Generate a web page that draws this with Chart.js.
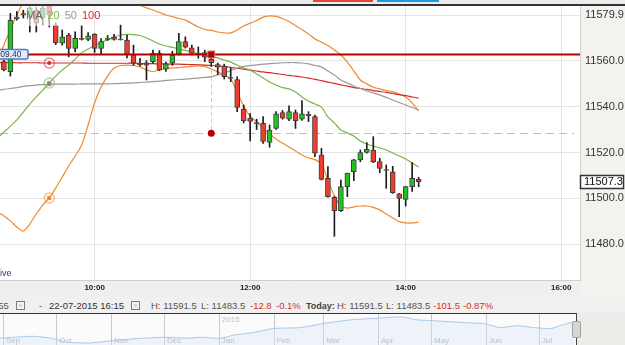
<!DOCTYPE html>
<html>
<head>
<meta charset="utf-8">
<script src="https://cdn.jsdelivr.net/npm/chart.js@4.4.0/dist/chart.umd.min.js"></script>
<style>
  body { margin: 0; background: #f1f1f1; font-family: 'Liberation Sans', Arial, sans-serif; }
  #wrap { position: relative; width: 625px; height: 345px; overflow: hidden; background: #f0f0f0; }
  #main { position: absolute; left: 0; top: 0; }
  #nav { position: absolute; left: 0; top: 314px; }
  .abs { position: absolute; }
  .st { position: absolute; top: 300px; font-size: 9.5px; line-height: 12px; color: #555; white-space: nowrap; }
  .red { color: #d0312d; }
  .cal { position: absolute; top: 301px; width: 7px; height: 7px; border: 1px solid #7d7d7d; background: #d8d8d8; box-shadow: inset 0 0 0 2px #f2f2f2; }
</style>
</head>
<body>
<div id="wrap">
  <canvas id="main" width="625" height="297"></canvas>
  <div class="abs" style="left:0;top:0;width:625px;height:4px;background:#ebebeb"></div>
  <div class="abs" style="left:313px;top:0;width:60px;height:2px;background:#e4473a"></div>
  <div class="abs" style="left:377px;top:0;width:62px;height:2px;background:#1f9ade"></div>
  <div class="abs" style="left:0;top:4px;width:625px;height:1.5px;background:#333"></div>
  <div class="abs" style="left:-5px;top:268px;font-size:9px;color:#4b2c73">Live</div>

  <div class="st" style="left:-15px">08:55</div>
  <div class="cal" style="left:16px"></div>
  <div class="st" style="left:39px">-</div>
  <div class="st" style="left:49px;color:#333">22-07-2015 16:15</div>
  <div class="cal" style="left:131px"></div>
  <div class="st" style="left:151px">H: 11591.5</div>
  <div class="st" style="left:201px">L: 11483.5</div>
  <div class="st red" style="left:250px">-12.8</div>
  <div class="st red" style="left:276px">-0.1%</div>
  <div class="st" style="left:306px;font-weight:bold;color:#444;font-size:9px">Today:</div>
  <div class="st" style="left:337px">H: 11591.5</div>
  <div class="st" style="left:386px">L: 11483.5</div>
  <div class="st red" style="left:433px">-101.5</div>
  <div class="st red" style="left:463px">-0.87%</div>

  <div class="abs" style="left:577px;top:313px;width:48px;height:32px;background:#eeece8"></div>
  <canvas id="nav" width="577" height="31"></canvas>
  <div class="abs" style="left:0;top:312.5px;width:577px;height:1.5px;background:#333"></div>
  <div class="abs" style="left:575.5px;top:313px;width:1.5px;height:32px;background:#444"></div>
  <div class="abs" style="left:572px;top:321px;width:7px;height:15px;background:#d6d6d6;border:1px solid #a2a2a2;border-radius:2px"></div>
</div>

<script>
// 5 minute candles, 22-07-2015
var times = ['08:50','08:55','09:00','09:05','09:10','09:15','09:20','09:25','09:30','09:35','09:40','09:45','09:50','09:55',
  '10:00','10:05','10:10','10:15','10:20','10:25','10:30','10:35','10:40','10:45','10:50','10:55',
  '11:00','11:05','11:10','11:15','11:20','11:25','11:30','11:35','11:40','11:45','11:50','11:55',
  '12:00','12:05','12:10','12:15','12:20','12:25','12:30','12:35','12:40','12:45','12:50','12:55',
  '13:00','13:05','13:10','13:15','13:20','13:25','13:30','13:35','13:40','13:45','13:50','13:55',
  '14:00','14:05','14:10'];

var open = [11559.6, 11555.2, 11578.3, 11580.5, 11579.0, 11582.0, 11578.6, 11584.0, 11575.5, 11567.6,
  11571.2, 11565.4, 11569.8, 11569.3, 11571.5, 11565.4, 11569.3, 11570.3, 11569.4, 11569.0,
  11562.6, 11559.0, 11559.1, 11559.6, 11563.2, 11556.3, 11558.9, 11562.9, 11568.3, 11565.6,
  11563.2, 11563.5, 11560.6, 11558.3, 11557.7, 11552.6, 11551.8, 11538.8, 11535.0, 11533.0,
  11532.7, 11524.4, 11530.5, 11537.4, 11534.5, 11537.4, 11534.5, 11536.6, 11535.6, 11518.9,
  11508.8, 11500.5, 11494.7, 11505.1, 11511.6, 11516.8, 11520.0, 11521.1, 11516.0, 11512.6,
  11511.6, 11502.0, 11499.6, 11505.1, 11508.3];
var high = [11560.3, 11580.6, 11581.4, 11582.0, 11583.5, 11583.2, 11583.6, 11584.2, 11576.4, 11573.4,
  11571.9, 11572.6, 11575.5, 11572.2, 11571.8, 11569.6, 11571.0, 11571.5, 11575.5, 11571.2,
  11566.8, 11561.0, 11560.0, 11564.6, 11564.4, 11559.4, 11564.1, 11571.9, 11570.4, 11566.8,
  11566.0, 11564.6, 11561.0, 11559.0, 11558.5, 11556.7, 11553.0, 11540.7, 11537.0, 11534.5,
  11535.6, 11532.0, 11537.8, 11538.3, 11540.3, 11538.5, 11542.6, 11537.8, 11536.3, 11521.8,
  11513.9, 11500.8, 11508.0, 11511.0, 11517.0, 11521.1, 11524.3, 11526.9, 11517.5, 11514.6,
  11514.0, 11502.2, 11505.3, 11515.6, 11509.2];
var low = [11555.5, 11553.3, 11577.7, 11578.6, 11572.5, 11572.5, 11575.5, 11574.7, 11567.0, 11566.8,
  11561.7, 11563.9, 11569.0, 11568.7, 11563.6, 11563.0, 11568.8, 11569.0, 11569.0, 11561.2,
  11558.0, 11557.6, 11551.6, 11558.9, 11555.7, 11555.3, 11558.0, 11562.5, 11565.5, 11562.5,
  11561.1, 11559.6, 11557.5, 11554.0, 11552.0, 11550.9, 11537.8, 11532.9, 11525.0, 11530.0,
  11524.0, 11522.3, 11530.1, 11534.5, 11533.9, 11530.5, 11534.0, 11533.5, 11518.2, 11508.0,
  11500.5, 11483.5, 11494.2, 11500.8, 11507.7, 11516.0, 11519.7, 11515.6, 11511.2, 11504.4,
  11502.2, 11492.0, 11496.7, 11503.0, 11505.1];
var close = [11556.0, 11577.7, 11579.0, 11580.0, 11583.0, 11576.4, 11582.9, 11580.0, 11567.8, 11570.4,
  11565.4, 11569.8, 11569.3, 11570.8, 11565.4, 11568.3, 11569.8, 11569.3, 11569.1, 11562.9,
  11558.9, 11558.3, 11558.1, 11563.2, 11556.0, 11558.6, 11562.5, 11568.3, 11565.9, 11563.2,
  11562.6, 11561.5, 11559.1, 11557.2, 11553.0, 11552.3, 11539.6, 11533.9, 11533.5, 11532.5,
  11524.8, 11529.8, 11536.8, 11535.0, 11537.8, 11533.9, 11536.8, 11536.1, 11519.7, 11508.3,
  11500.8, 11494.7, 11505.1, 11511.0, 11516.8, 11520.0, 11521.4, 11516.0, 11513.1, 11512.2,
  11502.5, 11500.0, 11505.1, 11508.8, 11507.3];

// indicator lines start one bar earlier (08:45)
var lineTimes = ['08:45'].concat(times);
var ma20 = [11526.3, 11528.9, 11531.5, 11534.2, 11537.6, 11541.1, 11544.2, 11547.2, 11550.3, 11553.3,
  11555.9, 11558.1, 11560.7, 11563.4, 11565.1, 11566.6, 11567.9, 11569.2, 11570.3, 11571.2,
  11571.5, 11571.4, 11571.0, 11569.9, 11568.6, 11567.3, 11566.4, 11565.8, 11565.1, 11564.5,
  11563.8, 11563.1, 11562.5, 11561.8, 11561.2, 11560.3, 11559.4, 11558.1, 11556.8, 11555.9,
  11554.2, 11552.5, 11550.7, 11549.4, 11548.3, 11547.7, 11546.4, 11544.2, 11542.4, 11541.1,
  11539.8, 11535.5, 11532.9, 11529.8, 11528.5, 11527.2, 11525.0, 11523.7, 11522.8, 11522.0,
  11521.1, 11519.8, 11518.5, 11517.2, 11515.4, 11513.7];
var ma50 = [11547.0, 11547.5, 11547.9, 11548.3, 11548.8, 11549.1, 11549.4, 11549.6, 11549.8, 11549.8,
  11549.8, 11549.8, 11549.8, 11549.9, 11549.9, 11549.9, 11549.9, 11549.9, 11550.0, 11550.1,
  11550.2, 11550.3, 11550.5, 11550.7, 11550.9, 11551.1, 11551.4, 11551.6, 11551.8, 11552.0,
  11552.2, 11552.4, 11552.7, 11553.1, 11553.8, 11554.6, 11555.7, 11556.8, 11557.5, 11557.9,
  11558.2, 11558.5, 11558.7, 11558.9, 11559.1, 11559.2, 11559.2, 11559.0, 11558.6, 11557.9,
  11557.3, 11555.5, 11553.8, 11551.6, 11550.3, 11549.0, 11547.9, 11546.8, 11546.0, 11545.1,
  11544.0, 11542.9, 11541.8, 11540.7, 11539.6, 11538.5];
var ma100 = [11559.2, 11559.2, 11559.2, 11559.1, 11559.1, 11559.1, 11559.1, 11559.0, 11559.0, 11559.0,
  11559.0, 11559.0, 11559.0, 11559.0, 11558.9, 11558.9, 11558.9, 11558.9, 11558.9, 11558.9,
  11558.9, 11558.9, 11558.8, 11558.7, 11558.7, 11558.6, 11558.6, 11558.5, 11558.5, 11558.4,
  11558.3, 11558.2, 11558.1, 11557.9, 11557.7, 11557.5, 11557.1, 11556.7, 11556.3, 11555.9,
  11555.5, 11555.1, 11554.8, 11554.4, 11554.0, 11553.6, 11553.3, 11552.9, 11552.4, 11551.9,
  11551.3, 11550.7, 11550.1, 11549.5, 11548.9, 11548.3, 11547.9, 11547.5, 11547.0, 11546.6,
  11546.2, 11545.7, 11545.2, 11544.8, 11544.2, 11543.7];
var bbUpper = [11559.4, 11566.8, 11573.4, 11579.9, 11585.6, 11590.8, 11594.3, 11596.9, 11599.5, 11601.3,
  11602.1, 11602.1, 11602.1, 11601.3, 11598.6, 11595.8, 11593.2, 11591.0, 11589.5, 11588.0,
  11586.6, 11585.4, 11584.2, 11583.0, 11582.1, 11581.0, 11579.9, 11579.2, 11578.4, 11577.7,
  11576.2, 11574.7, 11573.6, 11573.2, 11572.5, 11572.1, 11572.1, 11573.4, 11575.1, 11576.3,
  11577.5, 11579.0, 11579.5, 11579.3, 11578.4, 11577.1, 11575.3, 11573.6, 11571.6, 11569.5,
  11568.1, 11566.6, 11564.7, 11562.5, 11559.4, 11555.5, 11551.6, 11549.9, 11548.5, 11547.7,
  11547.0, 11546.5, 11545.5, 11544.2, 11541.6, 11538.1];
var bbLower = [11494.1, 11492.3, 11490.2, 11487.5, 11485.8, 11488.9, 11493.2, 11497.1, 11500.2, 11504.5,
  11509.3, 11514.1, 11518.5, 11523.3, 11532.0, 11541.6, 11548.5, 11553.3, 11556.8, 11557.9,
  11558.1, 11557.9, 11557.3, 11556.0, 11555.3, 11556.0, 11556.6, 11556.8, 11557.0, 11557.3,
  11557.5, 11557.7, 11557.5, 11556.4, 11555.1, 11553.8, 11552.0, 11546.4, 11540.3, 11535.9,
  11533.3, 11530.7, 11528.1, 11525.9, 11524.1, 11522.4, 11520.7, 11518.9, 11517.6, 11516.9,
  11515.0, 11508.0, 11501.1, 11496.7, 11495.8, 11496.3, 11496.7, 11496.7, 11496.1, 11495.0,
  11493.2, 11491.5, 11489.9, 11489.3, 11489.3, 11489.7];

var yTicks = [11480.0, 11500.0, 11520.0, 11540.0, 11560.0, 11579.9];
var xTicks = ['10:00', '12:00', '14:00', '16:00'];
var lineLevel = 11562.7;   // drawn horizontal line
var alertLevel = 11528.4;  // dashed alert line
var alertTime = '11:30';
var lastPrice = 11507.3;
var hoverIndex = 8;        // 09:25 crosshair

// navigator (last year, days from 1 Sep 2014)
var navDays = [-2, 6, 17, 27, 36, 48, 55, 65, 78, 93, 104, 112, 123, 130, 142, 153, 168, 184, 197, 214,
  225, 234, 244, 253, 263, 272, 281, 291, 300, 310, 315, 323];
var navValues = [9510, 9630, 9760, 9510, 9000, 8870, 9000, 9250, 9500, 9630, 9500, 9630, 9500, 9890, 10270, 10780,
  10900, 11540, 11920, 12170, 12300, 11920, 11790, 11670, 11540, 11410, 10900, 11160, 10900, 10780, 11160, 11670];
var navMonths = ['Sep', 'Oct', 'Nov', 'Dec', 'Jan', 'Feb', 'Mar', 'Apr', 'May', 'Jun', 'Jul'];
var navMonthDays = [0, 30, 61, 91, 122, 153, 181, 212, 242, 273, 303];

function toMin(s) {
  var p = s.split(':');
  return parseInt(p[0]) * 60 + parseInt(p[1]);
}
function fmtMin(v) {
  var h = Math.floor(v / 60), m = v % 60;
  return (h < 10 ? '0' : '') + h + ':' + (m < 10 ? '0' : '') + m;
}
function noPad(s) {
  s.paddingTop = 0; s.paddingBottom = 0; s.paddingLeft = 0; s.paddingRight = 0;
}

Chart.defaults.font.family = "'Liberation Sans', Arial, sans-serif";

var candleX = times.map(toMin);
var lineX = lineTimes.map(toMin);

function lineSet(label, values, color, width) {
  return {
    type: 'line',
    label: label,
    data: values.map(function (v, i) { return { x: lineX[i], y: v }; }),
    borderColor: color,
    borderWidth: width,
    pointRadius: 0,
    tension: 0.3,
    fill: false
  };
}

var bodyColors = open.map(function (o, i) { return close[i] >= o ? '#1fc41f' : '#ee3d2d'; });

var overlay = {
  id: 'overlay',
  beforeDraw: function (chart) {
    var c = chart.ctx, a = chart.chartArea;
    c.save();
    c.fillStyle = '#f3f2ee';
    c.fillRect(0, 0, chart.width, chart.height);
    c.fillStyle = '#efefef';
    c.fillRect(0, a.bottom, a.right, chart.height - a.bottom);
    c.fillStyle = '#ffffff';
    c.fillRect(a.left, a.top, a.right - a.left, a.bottom - a.top);
    c.restore();
  },
  beforeDatasetsDraw: function (chart) {
    var c = chart.ctx, a = chart.chartArea, xs = chart.scales.x, ys = chart.scales.y;
    var ya = ys.getPixelForValue(alertLevel);
    var xa = xs.getPixelForValue(toMin(alertTime));
    c.save();
    c.strokeStyle = '#d9b2b2';
    c.lineWidth = 1.2;
    c.setLineDash([8, 5]);
    c.beginPath();
    c.moveTo(a.left, Math.round(ya) + 0.5);
    c.lineTo(a.right - 6, Math.round(ya) + 0.5);
    c.stroke();
    c.strokeStyle = '#f0bebe';
    c.lineWidth = 1;
    c.setLineDash([4, 3]);
    c.beginPath();
    c.moveTo(Math.round(xa) + 0.5, ys.getPixelForValue(11559));
    c.lineTo(Math.round(xa) + 0.5, ya);
    c.stroke();
    c.restore();
  },
  afterDatasetsDraw: function (chart) {
    var c = chart.ctx, a = chart.chartArea, xs = chart.scales.x, ys = chart.scales.y;
    var ya = ys.getPixelForValue(alertLevel);
    var xa = xs.getPixelForValue(toMin(alertTime));
    var yl = ys.getPixelForValue(lineLevel);
    c.save();
    // alert dot
    c.fillStyle = '#b30000';
    c.beginPath();
    c.arc(xa, ya, 3.5, 0, Math.PI * 2);
    c.fill();
    // horizontal drawn line with handle
    c.strokeStyle = '#b40000';
    c.lineWidth = 2;
    c.beginPath();
    c.moveTo(a.left, yl);
    c.lineTo(a.right, yl);
    c.stroke();
    c.fillStyle = '#b00000';
    c.fillRect(xa - 3.5, yl - 3.5, 7, 7);
    c.strokeStyle = '#e57a7a';
    c.lineWidth = 1;
    c.strokeRect(xa - 3.5, yl - 3.5, 7, 7);

    // crosshair markers on the indicator lines
    var marks = [[4, '#d42a2a', 'circle'], [2, '#7ab648', 'square'], [3, '#8a8a8a', 'square'], [6, '#ee8a2e', 'square']];
    marks.forEach(function (m) {
      var el = chart.getDatasetMeta(m[0]).data[hoverIndex];
      if (!el || el.y < a.top || el.y > a.bottom) return;
      if (m[0] !== 3) {
        c.strokeStyle = m[1];
        c.globalAlpha = 0.55;
        c.lineWidth = 1.5;
        c.beginPath();
        c.arc(el.x, el.y, 5, 0, Math.PI * 2);
        c.stroke();
        c.globalAlpha = 1;
      }
      c.fillStyle = m[1];
      if (m[2] === 'circle') {
        c.beginPath();
        c.arc(el.x, el.y, 2, 0, Math.PI * 2);
        c.fill();
      } else {
        c.fillRect(el.x - 2, el.y - 2, 4, 4);
      }
    });

    // MA legend
    c.fillStyle = 'rgba(255,255,255,0.62)';
    c.fillRect(26, a.top, 66, 21);
    c.font = '11px "Liberation Sans", Arial, sans-serif';
    c.textBaseline = 'middle';
    var lx = 26;
    [['MA', '#666'], ['20', '#7ab648'], ['50', '#999'], ['100', '#d42a2a']].forEach(function (t) {
      c.fillStyle = t[1];
      c.fillText(t[0], lx, 16);
      lx += c.measureText(t[0]).width + 5;
    });

    // label of the drawn line
    c.fillStyle = '#e2ecfb';
    c.strokeStyle = '#4a78d0';
    c.beginPath();
    c.roundRect(-6.5, yl - 5, 34.5, 9.5, 2);
    c.fill();
    c.stroke();
    c.fillStyle = '#1e2a44';
    c.font = '8.5px "Liberation Sans", Arial, sans-serif';
    c.textAlign = 'right';
    c.fillText('09.40', 21.5, yl);

    // last price box
    var yp = ys.getPixelForValue(lastPrice);
    c.fillStyle = '#ffffff';
    c.fillRect(580.5, Math.round(yp) - 6.5, 43, 13);
    c.strokeStyle = '#333';
    c.strokeRect(580.5, Math.round(yp) - 6.5, 43, 13);
    c.fillStyle = '#111';
    c.textAlign = 'left';
    c.font = '11px "Liberation Sans", Arial, sans-serif';
    c.fillText(lastPrice.toFixed(1), 584, Math.round(yp));
    c.restore();
  }
};

new Chart(document.getElementById('main'), {
  type: 'bar',
  data: {
    datasets: [
      {
        label: 'body',
        data: candleX.map(function (x, i) { return { x: x, y: [open[i], close[i]] }; }),
        backgroundColor: bodyColors,
        borderColor: '#3d3d3d',
        borderWidth: 1,
        borderSkipped: false,
        barThickness: 5,
        grouped: false
      },
      {
        label: 'wick',
        data: candleX.map(function (x, i) { return { x: x, y: [low[i], high[i]] }; }),
        backgroundColor: '#1c1c1c',
        barThickness: 1,
        grouped: false
      },
      lineSet('MA20', ma20, '#7ab648', 1.2),
      lineSet('MA50', ma50, '#9a9a9a', 1.2),
      lineSet('MA100', ma100, '#d42a2a', 1.2),
      lineSet('BB upper', bbUpper, '#ee8a2e', 1.2),
      lineSet('BB lower', bbLower, '#ee8a2e', 1.2)
    ]
  },
  options: {
    responsive: false,
    animation: false,
    layout: { padding: { top: 5, left: 0, right: 0, bottom: 0 } },
    plugins: { legend: { display: false }, tooltip: { enabled: false } },
    scales: {
      x: {
        type: 'linear',
        min: 527,
        max: 974.5,
        offset: false,
        grid: { color: '#e4e4e4', offset: false, drawTicks: false },
        border: { color: '#cfcfcf' },
        afterBuildTicks: function (s) { s.ticks = xTicks.map(function (t) { return { value: toMin(t) }; }); },
        afterFit: function (s) { s.height = 17; noPad(s); },
        ticks: { callback: function (v) { return fmtMin(v); }, color: '#222', font: { size: 8, weight: 'bold' }, padding: 3, maxRotation: 0 }
      },
      y: {
        position: 'right',
        min: 11464.45,
        max: 11584.27,
        grid: { color: '#e4e4e4', drawTicks: false },
        border: { color: '#cfcfcf' },
        afterBuildTicks: function (s) { s.ticks = yTicks.map(function (v) { return { value: v }; }); },
        afterFit: function (s) { s.width = 45; noPad(s); },
        ticks: { callback: function (v) { return v.toFixed(1); }, color: '#333', font: { size: 11 }, padding: 5 }
      }
    }
  },
  plugins: [overlay]
});

// navigator
var navDeco = {
  id: 'navDeco',
  beforeDraw: function (chart) {
    var c = chart.ctx;
    c.save();
    c.fillStyle = '#fbfbfb';
    c.fillRect(0, 0, chart.width, chart.height);
    c.restore();
  },
  beforeDatasetsDraw: function (chart) {
    var c = chart.ctx, xs = chart.scales.x;
    c.save();
    c.strokeStyle = '#c9c9c9';
    c.lineWidth = 1;
    navMonthDays.forEach(function (d) {
      var x = Math.round(xs.getPixelForValue(d)) + 0.5;
      c.beginPath();
      c.moveTo(x, 0);
      c.lineTo(x, chart.height);
      c.stroke();
    });
    c.restore();
  },
  afterDatasetsDraw: function (chart) {
    var c = chart.ctx, xs = chart.scales.x;
    c.save();
    c.font = '8px "Liberation Sans", Arial, sans-serif';
    c.textBaseline = 'middle';
    c.fillStyle = '#b6c0cc';
    navMonthDays.forEach(function (d, i) {
      c.fillText(navMonths[i], xs.getPixelForValue(d) + 3, 27);
    });
    c.fillText('2015', xs.getPixelForValue(navMonthDays[4]) + 3, 6);
    c.restore();
  }
};

new Chart(document.getElementById('nav'), {
  type: 'line',
  data: {
    datasets: [{
      data: navDays.map(function (d, i) { return { x: d, y: navValues[i] }; }),
      borderColor: '#a8c8eb',
      borderWidth: 1,
      backgroundColor: 'rgba(215,230,248,0.35)',
      fill: 'start',
      pointRadius: 0,
      tension: 0.2
    }]
  },
  options: {
    responsive: false,
    animation: false,
    layout: { padding: 0 },
    plugins: { legend: { display: false }, tooltip: { enabled: false } },
    scales: {
      x: { type: 'linear', display: false, min: -1.7, max: 324.5 },
      y: { display: false, min: 8617, max: 12681 }
    }
  },
  plugins: [navDeco]
});
</script>
</body>
</html>
